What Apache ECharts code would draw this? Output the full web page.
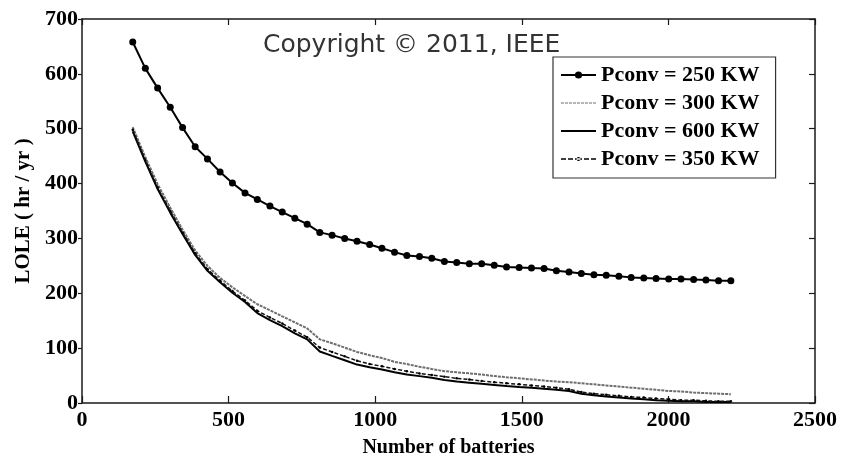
<!DOCTYPE html>
<html>
<head>
<meta charset="utf-8">
<script src="https://cdn.jsdelivr.net/npm/echarts@6/dist/echarts.min.js"></script>
<style>
  html, body { margin: 0; padding: 0; background: #fff; }
  #chart { width: 843px; height: 464px; }
</style>
</head>
<body>
<div id="chart"></div>
<script>
// Number of batteries (x positions shared by all curves)
const batteries = [173, 216, 258, 301, 343, 386, 428, 471, 513, 556, 598, 641, 683, 726, 768, 811, 853, 896, 938, 981,
  1023, 1066, 1108, 1151, 1193, 1236, 1278, 1321, 1363, 1406, 1448, 1491, 1533, 1576, 1618, 1661, 1703, 1746, 1788, 1831,
  1873, 1916, 1958, 2001, 2043, 2086, 2128, 2171, 2213];

// LOLE (hr / yr) for each converter rating
const lole250 = [658, 610, 574, 539, 502, 467, 445, 421, 401, 383, 371, 359, 348, 337, 326,
  311, 306, 300, 295, 289, 282, 275, 269, 267, 264, 258, 256, 254, 254, 251, 248, 247, 246, 245,
  241, 239, 236, 234, 233, 231, 229, 228, 227, 226, 226, 225, 224, 223, 223];
const lole300 = [503, 448, 399, 356, 316, 278, 250, 228, 211, 195, 180, 169, 158, 147, 136, 116, 109, 101, 93, 87,
  82, 75, 71, 66, 62, 58, 56, 54, 52, 49, 47, 45, 43, 41, 39, 38, 36, 34, 32, 30,
  28, 26, 24, 22, 21, 19, 18, 17, 16];
const lole600 = [495, 440, 390, 347, 308, 270, 241, 220, 201, 184, 164, 151, 140, 127, 116, 94, 86, 78, 70, 65,
  61, 56, 52, 49, 46, 42, 39, 37, 35, 33, 31, 29, 28, 26, 24, 22, 17, 14, 12, 10,
  8, 7, 5, 4, 3, 3, 2, 2, 2];
const lole350 = [498, 443, 393, 350, 311, 273, 244, 223, 204, 187, 168, 156, 145, 132, 120, 101, 93, 85, 77, 71,
  67, 62, 58, 54, 51, 48, 45, 43, 40, 38, 36, 34, 32, 30, 28, 25, 20, 17, 15, 13,
  11, 10, 8, 7, 5, 5, 4, 3, 3];

const seriesNames = ['Pconv = 250 KW', 'Pconv = 300 KW', 'Pconv = 600 KW', 'Pconv = 350 KW'];

// Axis tick values
const xTickValues = [0, 500, 1000, 1500, 2000, 2500];
const yTickValues = [0, 100, 200, 300, 400, 500, 600, 700];

const pairs = (ys) => batteries.map((x, i) => [x, ys[i]]);

const serif = 'Liberation Serif';
const axisColor = '#1a1a1a';
const plainNumber = (v) => String(v);

const xScale = {
  min: xTickValues[0],
  max: xTickValues[xTickValues.length - 1],
  interval: xTickValues[1] - xTickValues[0]
};
const yScale = {
  min: yTickValues[0],
  max: yTickValues[yTickValues.length - 1],
  interval: yTickValues[1] - yTickValues[0]
};

// dashed line with a small dot, used as the legend key of the 350 KW curve
const dashDotIcon = 'path://M0 4h5v1.5h-5z M7 4h5v1.5h-5z M14 4h7v1.5h-7z M23 4h5v1.5h-5z M30 4h5v1.5h-5z ' +
  'M15.5 4.75a2 2 0 1 0 4 0a2 2 0 1 0 -4 0z';

const chart = echarts.init(document.getElementById('chart'), null, { renderer: 'canvas' });

chart.setOption({
  animation: false,
  backgroundColor: '#ffffff',
  grid: { left: 82, right: 28, top: 19, bottom: 61, containLabel: false },
  xAxis: [
    {
      type: 'value', position: 'bottom', ...xScale,
      name: 'Number of batteries', nameLocation: 'middle', nameGap: 35,
      nameTextStyle: { fontFamily: serif, fontWeight: 'bold', fontSize: 20, color: '#000' },
      axisLine: { show: true, onZero: false, lineStyle: { color: axisColor, width: 1.5 } },
      axisTick: { show: true, inside: true, length: 7, lineStyle: { color: axisColor, width: 1.2 } },
      axisLabel: { margin: 6, fontFamily: serif, fontWeight: 'bold', fontSize: 22, color: '#000', formatter: plainNumber },
      splitLine: { show: false }
    },
    {
      type: 'value', position: 'top', ...xScale,
      axisLine: { show: true, onZero: false, lineStyle: { color: axisColor, width: 1.5 } },
      axisTick: { show: true, inside: true, length: 6, lineStyle: { color: axisColor, width: 1.2 } },
      axisLabel: { show: false },
      splitLine: { show: false }
    }
  ],
  yAxis: [
    {
      type: 'value', position: 'left', ...yScale,
      name: 'LOLE ( hr / yr )', nameLocation: 'middle', nameGap: 47,
      nameTextStyle: { fontFamily: serif, fontWeight: 'bold', fontSize: 21, color: '#000' },
      axisLine: { show: true, onZero: false, lineStyle: { color: axisColor, width: 1.5 } },
      axisTick: { show: true, inside: false, length: 4, lineStyle: { color: axisColor, width: 1.2 } },
      axisLabel: { margin: 4, fontFamily: serif, fontWeight: 'bold', fontSize: 22, color: '#000', formatter: plainNumber },
      splitLine: { show: false }
    },
    {
      type: 'value', position: 'right', ...yScale,
      axisLine: { show: true, onZero: false, lineStyle: { color: axisColor, width: 1.5 } },
      axisTick: { show: true, inside: true, length: 6, lineStyle: { color: axisColor, width: 1.2 } },
      axisLabel: { show: false },
      splitLine: { show: false }
    }
  ],
  legend: {
    orient: 'vertical',
    left: 553, top: 57,
    padding: [7, 16, 8, 7],
    itemWidth: 35, itemHeight: 9, itemGap: 6,
    backgroundColor: '#ffffff',
    borderColor: '#333', borderWidth: 1.2, borderRadius: 0,
    textStyle: { fontFamily: serif, fontWeight: 'bold', fontSize: 22, color: '#000', lineHeight: 22 },
    data: [
      { name: seriesNames[0], itemStyle: { borderWidth: 0 } },
      { name: seriesNames[1], itemStyle: { opacity: 0, borderWidth: 0 }, lineStyle: { width: 1.2 } },
      { name: seriesNames[2], itemStyle: { opacity: 0, borderWidth: 0 }, lineStyle: { width: 2 } },
      { name: seriesNames[3], icon: dashDotIcon, itemStyle: { color: '#000', borderWidth: 0 } }
    ]
  },
  series: [
    {
      name: seriesNames[0], type: 'line', data: pairs(lole250),
      symbol: 'circle', symbolSize: 7, showSymbol: true, showAllSymbol: true,
      lineStyle: { color: '#000', width: 2 },
      itemStyle: { color: '#000', borderWidth: 0 },
      z: 5
    },
    {
      name: seriesNames[1], type: 'line', data: pairs(lole300),
      symbol: 'none',
      lineStyle: { color: '#6e6e6e', width: 2, type: [3, 1] },
      itemStyle: { color: '#6e6e6e' },
      z: 2
    },
    {
      name: seriesNames[2], type: 'line', data: pairs(lole600),
      symbol: 'none',
      lineStyle: { color: '#000', width: 2 },
      itemStyle: { color: '#000' },
      z: 3
    },
    {
      name: seriesNames[3], type: 'line', data: pairs(lole350),
      symbol: 'circle', symbolSize: 2.5, showSymbol: true, showAllSymbol: true,
      lineStyle: { color: '#111', width: 1.5, type: [4, 2] },
      itemStyle: { color: '#000', borderWidth: 0 },
      z: 4
    }
  ],
  graphic: [
    {
      type: 'text', left: 263, top: 33, z: 100,
      style: { text: 'Copyright © 2011, IEEE', fontFamily: 'DejaVu Sans', fontSize: 25, fill: '#333' }
    }
  ]
});
</script>
</body>
</html>
